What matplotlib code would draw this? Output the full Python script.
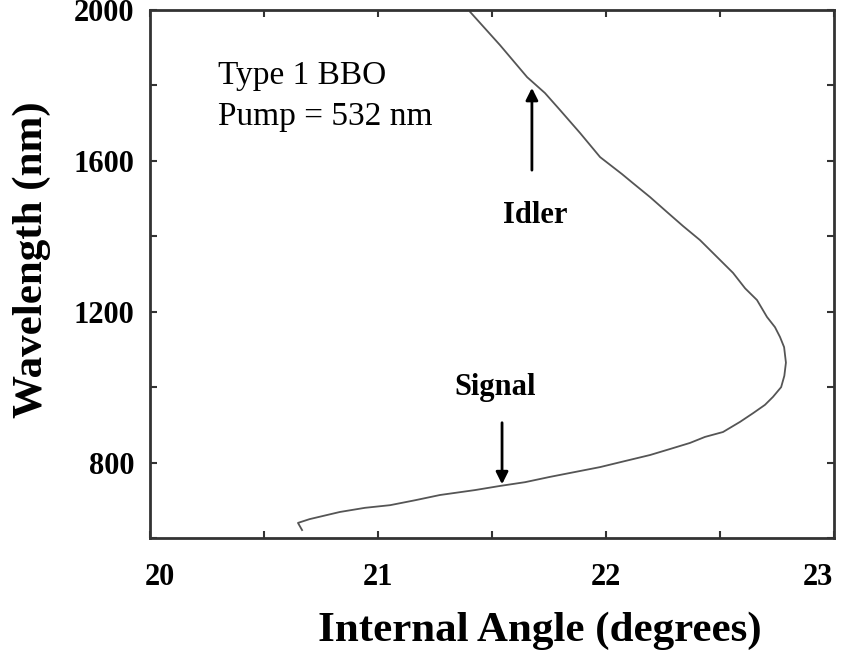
import matplotlib.pyplot as plt
from matplotlib.ticker import MultipleLocator
from matplotlib.transforms import ScaledTranslation

# phase-matching curve, type 1 BBO pumped at 532 nm
angle = [20.667, 20.649, 20.70, 20.833, 20.943, 21.053, 21.162, 21.272, 21.425,
         21.535, 21.645, 21.754, 21.864, 21.974, 22.083, 22.193, 22.281, 22.368,
         22.434, 22.513, 22.588, 22.645, 22.697, 22.732, 22.768, 22.782, 22.789,
         22.781, 22.763, 22.741, 22.706, 22.662, 22.61, 22.557, 22.487, 22.412,
         22.338, 22.268, 22.193, 22.118, 22.07, 21.974, 21.886, 21.798, 21.732,
         21.654, 21.535, 21.404]
wavelength = [621, 640, 650, 669, 680, 687, 700, 714, 727,
              738, 748, 762, 775, 788, 804, 820, 836, 852,
              868, 881, 908, 931, 953, 974, 1000, 1030, 1065,
              1106, 1133, 1159, 1186, 1231, 1262, 1303, 1345, 1390,
              1427, 1464, 1504, 1541, 1565, 1610, 1674, 1735, 1780,
              1822, 1907, 1995]

xticks = [20, 21, 22, 23]
yticks = [800, 1200, 1600, 2000]

plt.rcParams['font.family'] = ['Liberation Serif', 'DejaVu Serif']

fig = plt.figure(figsize=(8.44, 6.51), dpi=100)
ax = fig.add_axes([0.1777, 0.1736, 0.8105, 0.811])

ax.plot(angle, wavelength, color='#555555', lw=1.3)

ax.set_xlim(20, 23)
ax.set_ylim(600, 2000)
ax.set_xticks(xticks)
ax.set_yticks(yticks)
ax.xaxis.set_minor_locator(MultipleLocator(0.5))
ax.yaxis.set_minor_locator(MultipleLocator(200))
ax.tick_params(which='both', direction='in', top=True, right=True,
               length=5, width=1.5, color='#333333')
ax.tick_params(axis='x', which='major', pad=18, labelsize=22)
ax.tick_params(axis='y', which='major', pad=11, labelsize=22)
for lbl in ax.get_xticklabels() + ax.get_yticklabels():
    lbl.set_fontweight('bold')

# keep the end labels inside the figure
xl = ax.get_xticklabels()
xl[0].set_transform(xl[0].get_transform() + ScaledTranslation(0.10, 0, fig.dpi_scale_trans))
xl[-1].set_transform(xl[-1].get_transform() + ScaledTranslation(-0.16, 0, fig.dpi_scale_trans))

for sp in ax.spines.values():
    sp.set_linewidth(2)
    sp.set_color('#333333')

ax.set_xlabel('Internal Angle (degrees)', fontsize=31, fontweight='bold')
ax.xaxis.set_label_coords(0.570, -0.140)
ax.set_ylabel('Wavelength (nm)', fontsize=31, fontweight='bold')
ax.yaxis.set_label_coords(-0.145, 0.527)

ax.text(20.3, 1772, 'Type 1 BBO\nPump = 532 nm', fontsize=24,
        ha='left', va='center', linespacing=1.45)

ax.annotate('', xy=(21.675, 1801), xytext=(21.675, 1568),
            arrowprops=dict(arrowstyle='-|>', color='black', lw=2,
                            mutation_scale=18))
ax.text(21.69, 1456, 'Idler', fontsize=22, fontweight='bold',
        ha='center', va='center')

ax.annotate('', xy=(21.544, 735), xytext=(21.544, 913),
            arrowprops=dict(arrowstyle='-|>', color='black', lw=2,
                            mutation_scale=18))
ax.text(21.513, 998, 'Signal', fontsize=22, fontweight='bold',
        ha='center', va='center')

fig.savefig('out.png', dpi=100)
